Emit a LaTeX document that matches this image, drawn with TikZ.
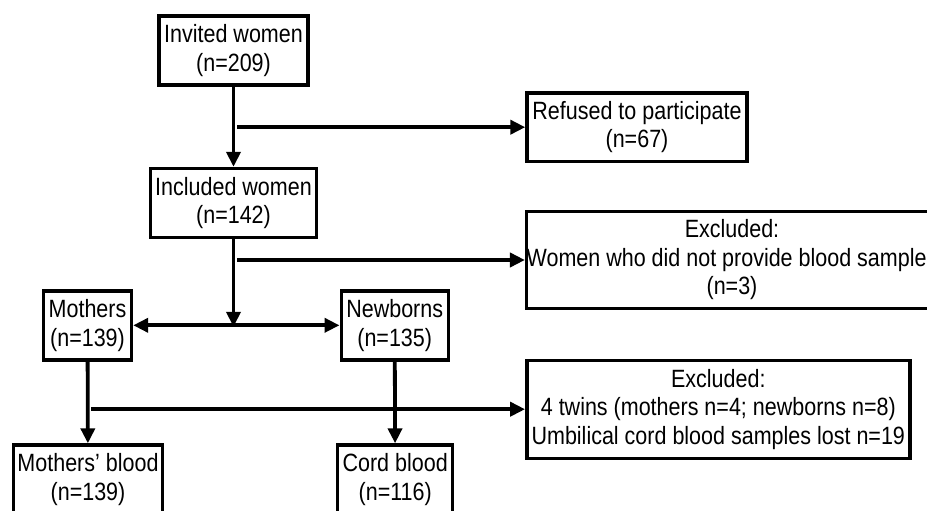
\documentclass[tikz,border=0pt]{standalone}
\usepackage{fontspec}
\setmainfont{Liberation Sans}[FakeStretch=0.86]
\usetikzlibrary{arrows.meta}

\tikzset{
    flowbox/.style={draw, line width=3.4pt, align=center, inner sep=0pt,
        font=\fontsize{25}{28.5}\selectfont},
    arr/.style={line width=3.8pt, -{Triangle[length=15pt,width=14pt]}},
    darr/.style={line width=3.8pt, {Triangle[length=15pt,width=14pt]}-{Triangle[length=15pt,width=14pt]}}
}

\begin{document}
\begin{tikzpicture}[x=1pt,y=-1pt]
    \useasboundingbox (0,0) rectangle (927,511);
    \clip (0,0) rectangle (927,511);
    % main column of the flow
    \node[flowbox, minimum width=149pt, minimum height=69pt] (invited) at (233.5,50.5) {Invited women\\(n=209)};
    \node[flowbox, minimum width=166pt, minimum height=69pt] (included) at (233.5,203) {Included women\\(n=142)};
    \node[flowbox, minimum width=88pt, minimum height=69pt] (mothers) at (87.5,325.3) {Mothers\\(n=139)};
    \node[flowbox, minimum width=107pt, minimum height=69pt] (newborns) at (394.7,325.3) {Newborns\\(n=135)};
    \node[flowbox, minimum width=149pt, minimum height=69pt] (mblood) at (88,479.5) {Mothers’ blood\\(n=139)};
    \node[flowbox, minimum width=115pt, minimum height=69pt] (cblood) at (395.2,479.5) {Cord blood\\(n=116)};
    % exclusion boxes on the right
    \node[flowbox, minimum width=220pt, minimum height=68pt] (refused) at (637,127.2) {Refused to participate\\(n=67)};
    \node[flowbox, minimum width=410pt, minimum height=97pt] (excl1) at (732,260) {Excluded:\\Women who did not provide blood samples\\(n=3)};
    \node[flowbox, minimum width=383pt, minimum height=98pt] (excl2) at (718.3,409.2) {Excluded:\\4 twins (mothers n=4; newborns n=8)\\Umbilical cord blood samples lost n=19};

    % branching points
    \coordinate (split) at (included.south |- mothers);
    \coordinate (b1) at (invited.south |- refused.west);
    \coordinate (b2) at (included.south |- excl1.west);
    \coordinate (b3) at (mothers.south |- excl2.west);

    \draw[arr] (invited) -- (included);
    \draw[arr] (included) -- ([yshift=-1.5pt]split);
    \draw[darr] (mothers) -- (newborns);
    \draw[arr] (mothers) -- (mblood);
    \draw[arr] (newborns) -- (cblood);
    \draw[arr] ([xshift=3.5pt]b1) -- (refused.west);
    \draw[arr] ([xshift=3.5pt]b2) -- (excl1.west);
    \draw[arr] ([xshift=3.5pt]b3) -- (excl2.west);
\end{tikzpicture}
\end{document}
